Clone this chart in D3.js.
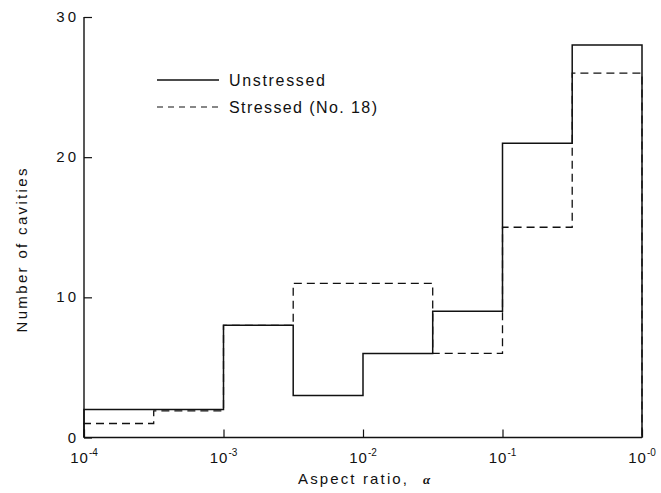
<!DOCTYPE html>
<html>
<head>
<meta charset="utf-8">
<script src="https://cdn.jsdelivr.net/npm/d3@7"></script>
<style>
  html, body { margin: 0; padding: 0; background: #fff; }
  svg { display: block; }
  text { font-family: "Liberation Sans", Arial, sans-serif; fill: #111; }
</style>
</head>
<body>
<svg id="chart" width="661" height="493"></svg>
<script>
// ---- data ----
const binEdges = [1e-4, 3.16e-4, 1e-3, 3.16e-3, 1e-2, 3.16e-2, 1e-1, 3.16e-1, 1];
const unstressed = [2, 2, 8, 3, 6, 9, 21, 28];
const stressed = [1, 1.9, 8, 11, 11, 6, 15, 26];
const xTicks = [1e-4, 1e-3, 1e-2, 1e-1, 1];
const xTickExponents = ["-4", "-3", "-2", "-1", "-0"];
const yTicks = [0, 10, 20, 30];
const seriesNames = ["Unstressed", "Stressed (No. 18)"];

// ---- layout ----
const svg = d3.select("#chart");
const x = d3.scaleLog().domain([1e-4, 1]).range([84, 642]);
const y = d3.scaleLinear().domain([0, 30]).range([437.5, 17]);
const ink = "#111";

// axes (inward ticks)
const xAxis = d3.axisBottom(x).tickValues(xTicks).tickSize(-8).tickFormat("");
const gx = svg.append("g").attr("transform", `translate(0,${y(0)})`).call(xAxis);
gx.select(".domain").attr("d", `M${x(1e-4)},0H${x(1)}`).attr("stroke", ink).attr("stroke-width", 1.4);
gx.selectAll(".tick line").attr("stroke", ink).attr("stroke-width", 1.2);

const yAxis = d3.axisLeft(y).tickValues(yTicks).tickSize(-8).tickFormat("");
const gy = svg.append("g").attr("transform", `translate(${x(1e-4)},0)`).call(yAxis);
gy.select(".domain").attr("d", `M0,${y(0)}V${y(30)}`).attr("stroke", ink).attr("stroke-width", 1.4);
gy.selectAll(".tick line").attr("stroke", ink).attr("stroke-width", 1.2);

// y tick labels
svg.append("g").selectAll("text").data(yTicks).join("text")
  .attr("x", 79).attr("y", d => y(d) + 5)
  .attr("text-anchor", "end")
  .attr("font-size", 15).style("letter-spacing", "3px")
  .text(d => d);

// x tick labels: 10 with superscript exponent
const xl = svg.append("g").selectAll("text").data(xTicks).join("text")
  .attr("x", d => x(d)).attr("y", 463)
  .attr("text-anchor", "middle")
  .attr("font-size", 15);
xl.append("tspan").text("10").style("letter-spacing", "1px");
xl.append("tspan").attr("dy", -7).attr("font-size", 10).text((d, i) => xTickExponents[i]);

// axis titles
const xt = svg.append("text").attr("x", 298).attr("y", 484).attr("font-size", 15);
xt.append("tspan").attr("textLength", 109).attr("lengthAdjust", "spacing").text("Aspect ratio,");
xt.append("tspan").attr("x", 423).attr("font-family", "'Liberation Serif', serif")
  .attr("font-style", "italic").attr("font-weight", "bold").attr("font-size", 13).text("α");

svg.append("text")
  .attr("transform", `translate(27,${250.5}) rotate(-90)`)
  .attr("text-anchor", "middle").attr("font-size", 15)
  .attr("textLength", 164).attr("lengthAdjust", "spacing")
  .text("Number of cavities");

// step outlines
function stepPath(vals) {
  const pts = [[binEdges[0], 0]];
  vals.forEach((v, i) => { pts.push([binEdges[i], v]); pts.push([binEdges[i + 1], v]); });
  pts.push([binEdges[binEdges.length - 1], 0]);
  return d3.line().x(d => x(d[0])).y(d => y(d[1]))(pts);
}
svg.append("path").attr("d", stepPath(stressed))
  .attr("fill", "none").attr("stroke", ink).attr("stroke-width", 1.3)
  .attr("stroke-dasharray", "8,5");
svg.append("path").attr("d", stepPath(unstressed))
  .attr("fill", "none").attr("stroke", ink).attr("stroke-width", 1.5);

// legend
const leg = svg.append("g");
leg.append("line").attr("x1", 157).attr("x2", 219).attr("y1", 80).attr("y2", 80)
  .attr("stroke", ink).attr("stroke-width", 1.6);
leg.append("line").attr("x1", 157).attr("x2", 219).attr("y1", 107).attr("y2", 107)
  .attr("stroke", ink).attr("stroke-width", 1.2).attr("stroke-dasharray", "6,5");
leg.append("text").attr("x", 229).attr("y", 86).attr("font-size", 16)
  .attr("textLength", 96).attr("lengthAdjust", "spacing").text(seriesNames[0]);
leg.append("text").attr("x", 229).attr("y", 113).attr("font-size", 16)
  .attr("textLength", 148).attr("lengthAdjust", "spacing").text(seriesNames[1]);
</script>
</body>
</html>
